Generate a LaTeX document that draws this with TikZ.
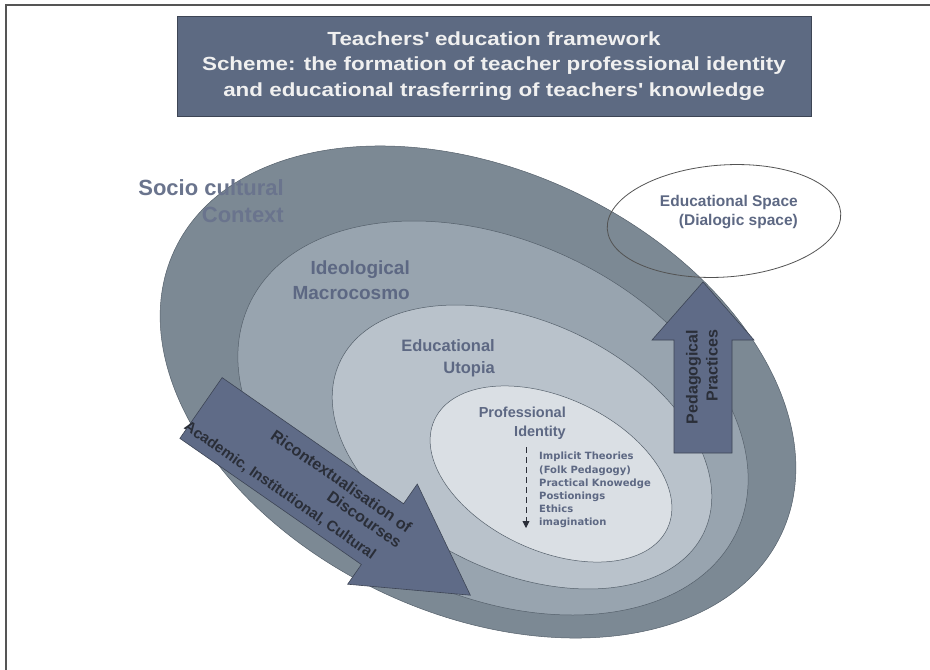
\documentclass[tikz,border=0pt]{standalone}
\usepackage{fontspec}
\setmainfont{Liberation Sans}
\newfontfamily\listfont{DejaVu Sans}
\newfontfamily\titlefont{Liberation Sans}[FakeStretch=1.18]
\usetikzlibrary{shapes.geometric,arrows.meta}

\definecolor{ringA}{HTML}{7C8994}
\definecolor{ringB}{HTML}{98A4AF}
\definecolor{ringC}{HTML}{B9C2CB}
\definecolor{ringD}{HTML}{DADFE4}
\definecolor{ringline}{HTML}{55606B}
\definecolor{slate}{HTML}{5D6A82}
\definecolor{slateedge}{HTML}{3D4555}
\definecolor{arrowfill}{HTML}{5F6B87}
\definecolor{labelc}{HTML}{5D6883}
\definecolor{darktext}{HTML}{2A2E38}
\definecolor{framec}{HTML}{555555}

\tikzset{
  ring/.style={ellipse, draw=ringline, line width=0.5pt, inner sep=0pt},
  titlebox/.style={fill=slate, draw=slateedge, line width=1pt,
    minimum width=634, minimum height=100, align=center,
    text=white!94!black, font=\titlefont\bfseries\fontsize{19}{25.5}\selectfont},
  ringlabel/.style={anchor=east, align=right, inner sep=0pt, text=labelc},
  arrowbox/.style={fill=arrowfill, draw=slateedge, line width=0.6pt},
  arrowlabel/.style={inner sep=0pt, text=darktext},
}

\begin{document}
\begin{tikzpicture}[x=1pt, y=-1pt]
\useasboundingbox (0,0) rectangle (930,670);

% page frame (left and top edges)
\coordinate (fbl) at (6,670);
\coordinate (ftl) at (6,5);
\coordinate (ftr) at (930,5);
\draw[line width=1.6pt, framec] (fbl) -- (ftl) -- (ftr);

% title
\node[titlebox] (title) at (494,66)
  {Teachers\textquotesingle{} education framework\\
   Scheme: the formation of teacher professional identity\\
   and educational trasferring of teachers\textquotesingle{} knowledge};

% nested contexts
\node[ring, fill=ringA, minimum width=670, minimum height=444, rotate=-25] (socio) at (478,392) {};
\node[ring, fill=ringB, minimum width=538, minimum height=355, rotate=-25] (ideo) at (493,418) {};
\node[ring, fill=ringC, minimum width=402, minimum height=251, rotate=-25] (utopia) at (522,447) {};
\node[ring, fill=ringD, minimum width=257, minimum height=153, rotate=-25] (ident) at (551,474) {};

% ring labels
\node[ringlabel, font=\bfseries\fontsize{22}{27}\selectfont, text=labelc!92!white] (sociolbl) at (284,201) {Socio cultural\\Context};
\node[ringlabel, font=\bfseries\fontsize{19}{25}\selectfont] (ideolbl) at (410,280) {Ideological\\Macrocosmo};
\node[ringlabel, font=\bfseries\fontsize{16.5}{21.5}\selectfont] (utopialbl) at (495,358) {Educational\\Utopia};
\node[ringlabel, font=\bfseries\fontsize{14.5}{19.5}\selectfont] (identlbl) at (566,423) {Professional\\Identity};

% components of professional identity
\node[anchor=west, align=left, inner sep=0pt, text=labelc,
      font=\listfont\bfseries\fontsize{10}{13.1}\selectfont] (identlist) at (539,490)
  {Implicit Theories\\(Folk Pedagogy)\\Practical Knowedge\\Postionings\\Ethics\\imagination};
\coordinate (dtop) at (526,447);
\coordinate (dbot) at (526,528);
\draw[dash pattern=on 6pt off 4pt, line width=0.9pt, darktext,
      -{Triangle[width=7pt,length=7pt]}] (dtop) -- (dbot);

% educational (dialogic) space
\node[ellipse, draw=gray!65!black, line width=0.8pt, minimum width=234, minimum height=112, rotate=4] (space) at (724,221) {};
\node[ringlabel, font=\bfseries\fontsize{15.5}{19}\selectfont] (spacelbl) at (798,212.5) {Educational Space\\(Dialogic space)};

% pedagogical practices arrow
\draw[arrowbox] (674,453) -- (674,340) -- (652,340) -- (703,282) -- (754,340) -- (732,340) -- (732,453) -- cycle;
\node[arrowlabel, rotate=90, align=right, font=\bfseries\fontsize{16}{20}\selectfont] (pedlbl) at (702,377) {Pedagogical\\Practices};

% recontextualisation arrow
\begin{scope}[shift={(201,408)}, rotate=-34.8, transform shape]
  \draw[arrowbox] (0,-37) -- (221,-37) -- (221,-61) -- (328,0) -- (221,61) -- (221,37) -- (0,37) -- cycle;
  \node[arrowlabel, anchor=east, align=right, font=\bfseries\fontsize{16}{18}\selectfont] (riclbl) at (241,-11) {Ricontextualisation of\\Discourses};
  \node[arrowlabel, font=\bfseries\fontsize{15}{18}\selectfont] (acadlbl) at (112,23) {Academic, Institutional, Cultural};
\end{scope}
\end{tikzpicture}
\end{document}
